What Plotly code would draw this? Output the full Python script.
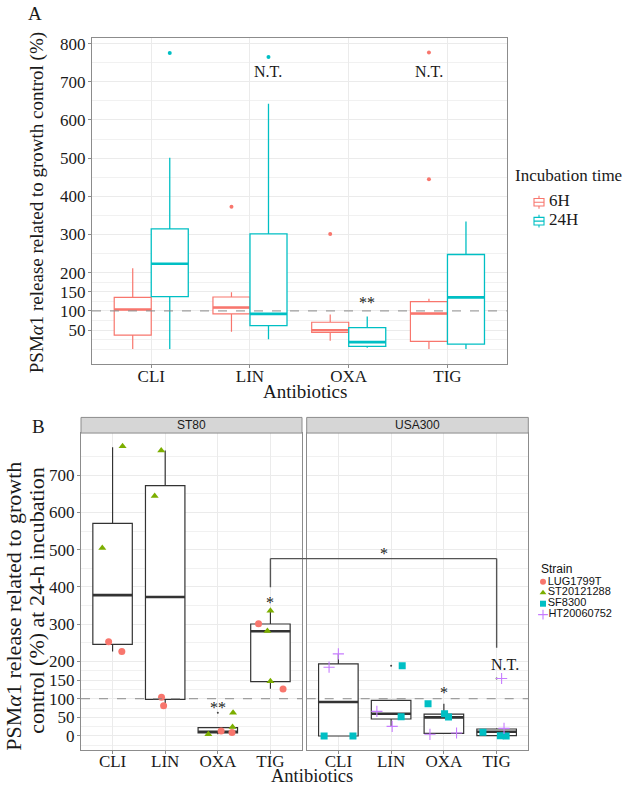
import plotly.graph_objects as go

W, H = 625, 787
SERIF = "Liberation Serif, Times New Roman, serif"
SANS = "Liberation Sans, Arial, sans-serif"

antibiotics = ["CLI", "LIN", "OXA", "TIG"]
xpos = list(range(len(antibiotics)))

# ---------------- Panel A: box statistics (values in %) ----------------
a6_q1 = [36.5, 92.2, 43.5, 20.0]
a6_med = [103.5, 108.7, 49.6, 93.0]
a6_q3 = [135.7, 136.5, 70.4, 124.3]
a6_lo = [0.0, 45.2, 21.7, 0.0]
a6_hi = [212.0, 148.7, 90.4, 132.0]
a6_out_cat = [1, 2, 3, 3]
a6_out_val = [373.0, 301.7, 777.0, 445.0]

a24_q1 = [137.4, 61.7, 7.0, 13.0]
a24_med = [223.5, 92.2, 18.3, 135.7]
a24_q3 = [314.8, 301.7, 56.5, 247.8]
a24_lo = [0.0, 26.0, 3.5, 0.0]
a24_hi = [500.9, 642.6, 85.2, 334.0]
a24_out_cat = [0, 1]
a24_out_val = [775.7, 765.0]

a_ticks = [50, 100, 150, 200, 300, 400, 500, 600, 700, 800]
a_minor = [0, 25, 75, 125, 175, 250, 350, 450, 550, 650, 750]

incubation = ["6H", "24H"]
inc_colors = ["#F8766D", "#00BFC4"]

# ---------------- Panel B: box statistics at 24 h ----------------
st80_q1 = [246.0, 98.0, 8.0, 146.0]
st80_med = [378.0, 372.7, 11.6, 281.0]
st80_q3 = [570.7, 672.0, 22.3, 300.5]
st80_lo = [226.5, 81.0, 4.5, 126.6]
st80_hi = [775.0, 766.0, 24.0, 336.0]
st80_out_cat = [2]
st80_out_val = [62.4]

usa_q1 = [0.0, 45.5, 7.1, 0.9]
usa_med = [91.0, 59.7, 49.9, 11.6]
usa_q3 = [193.5, 95.4, 58.9, 18.7]
usa_lo = [0.0, 26.0, 7.1, 0.9]
usa_hi = [220.0, 95.4, 86.5, 20.5]
usa_out_cat = [1, 3]
usa_out_val = [188.2, 154.3]

# individual strain points: category index, value, jitter
lug_cat = [0, 0, 1, 1, 2, 2, 3, 3]
lug_val = [253.0, 226.5, 104.0, 81.0, 13.4, 9.0, 301.0, 126.0]
lug_jit = [-0.075, 0.176, -0.07, -0.03, 0.063, 0.27, -0.226, 0.24]

st2_cat = [0, 0, 1, 1, 2, 2, 2, 3, 3, 3]
st2_val = [777.6, 504.7, 766.0, 644.0, 62.4, 24.0, 4.5, 336.0, 282.0, 147.0]
st2_jit = [0.19, -0.195, -0.075, -0.2, 0.29, 0.28, -0.18, 0.0, -0.057, 0.0]

sf_cat = [0, 0, 1, 1, 2, 2, 2, 3, 3, 3]
sf_val = [0.0, 0.0, 188.2, 51.7, 86.5, 59.7, 50.8, 9.8, 0.9, 0.0]
sf_jit = [-0.27, 0.277, 0.21, 0.19, -0.30, 0.013, 0.088, -0.26, 0.07, 0.18]

ht_cat = [0, 0, 1, 1, 2, 2, 3, 3]
ht_val = [220.3, 184.6, 66.0, 25.9, 4.5, 8.0, 154.3, 20.5]
ht_jit = [0.0, -0.176, -0.27, 0.02, -0.264, 0.24, 0.094, 0.14]

b_ticks = [0, 50, 100, 150, 200, 300, 400, 500, 600, 700]
b_minor = [-25, 25, 75, 125, 175, 250, 350, 450, 550, 650, 750]

strains = ["LUG1799T", "ST20121288", "SF8300", "HT20060752"]
strain_colors = ["#F8766D", "#7CAE00", "#00BFC4", "#C77CFF"]
strain_symbols = ["circle", "triangle-up", "square", "cross-thin"]

C6, C24 = inc_colors

# ---------------- layout geometry (pixels -> paper) ----------------
def fx(p):
    return p / W

def fy(p):
    return 1 - p / H

A_dom_x = [fx(92), fx(506.7)]
A_dom_y = [fy(362), fy(35)]
BL_dom_x = [fx(81), fx(302)]
BR_dom_x = [fx(306.7), fx(528.3)]
B_dom_y = [fy(750), fy(431.7)]
XR = [-0.6, 3.6]

fig = go.Figure()

BOXW = 0.75
slot = BOXW / 2


def add_box(xs, q1, med, q3, lo, hi, color, lw, xa, ya, group, name):
    fig.add_trace(go.Box(
        x=xs, q1=q1, median=med, q3=q3, lowerfence=lo, upperfence=hi,
        boxpoints=False, line=dict(color=color, width=lw), fillcolor="white",
        whiskerwidth=0, xaxis=xa, yaxis=ya, offsetgroup=group, alignmentgroup=xa,
        name=name, showlegend=False, hoverinfo="skip"))
    fig.add_trace(go.Box(
        x=xs, q1=med, median=med, q3=med, lowerfence=med, upperfence=med,
        boxpoints=False, line=dict(color=color, width=lw * 2.1), fillcolor="rgba(0,0,0,0)",
        whiskerwidth=0, xaxis=xa, yaxis=ya, offsetgroup=group, alignmentgroup=xa,
        name=name, showlegend=False, hoverinfo="skip"))


# Panel A
add_box(xpos, a6_q1, a6_med, a6_q3, a6_lo, a6_hi, C6, 1.2, "x", "y", "6H", "6H")
add_box(xpos, a24_q1, a24_med, a24_q3, a24_lo, a24_hi, C24, 1.3, "x", "y", "24H", "24H")
fig.add_trace(go.Scatter(x=[c - slot / 2 for c in a6_out_cat], y=a6_out_val, mode="markers",
                         marker=dict(color=C6, size=4), xaxis="x", yaxis="y",
                         showlegend=False, hoverinfo="skip"))
fig.add_trace(go.Scatter(x=[c + slot / 2 for c in a24_out_cat], y=a24_out_val, mode="markers",
                         marker=dict(color=C24, size=4), xaxis="x", yaxis="y",
                         showlegend=False, hoverinfo="skip"))

# Panel B boxes
add_box(xpos, st80_q1, st80_med, st80_q3, st80_lo, st80_hi, "#333333", 1.2, "x2", "y2", "b", "ST80")
add_box(xpos, usa_q1, usa_med, usa_q3, usa_lo, usa_hi, "#333333", 1.2, "x3", "y3", "b", "USA300")
fig.add_trace(go.Scatter(x=st80_out_cat, y=st80_out_val, mode="markers",
                         marker=dict(color="#444", size=2), xaxis="x2", yaxis="y2",
                         showlegend=False, hoverinfo="skip"))
fig.add_trace(go.Scatter(x=usa_out_cat, y=usa_out_val, mode="markers",
                         marker=dict(color="#444", size=2), xaxis="x3", yaxis="y3",
                         showlegend=False, hoverinfo="skip"))


def strain_marker(i, big):
    sym = strain_symbols[i]
    if sym == "cross-thin":
        return dict(color=strain_colors[i], size=8 if big else 7, symbol=sym,
                    line=dict(color=strain_colors[i], width=1.1))
    return dict(color=strain_colors[i], size=7 if big else 6, symbol=sym)


# Panel B points
pts = [
    (lug_cat, lug_val, lug_jit, 0, "x2", "y2"),
    (st2_cat, st2_val, st2_jit, 1, "x2", "y2"),
    (sf_cat, sf_val, sf_jit, 2, "x3", "y3"),
    (ht_cat, ht_val, ht_jit, 3, "x3", "y3"),
]
for cats, vals, jit, si, xa, ya in pts:
    fig.add_trace(go.Scatter(x=[c + j for c, j in zip(cats, jit)], y=vals, mode="markers",
                             marker=strain_marker(si, True), xaxis=xa, yaxis=ya,
                             showlegend=False, hoverinfo="skip"))

# Strain legend (compact, on a hidden axis; rows = strain index)
for i, s in enumerate(strains):
    fig.add_trace(go.Scatter(x=[0], y=[i], mode="markers+text", text=[s], textposition="middle right",
                             textfont=dict(family=SANS, size=11, color="#111"),
                             marker=strain_marker(i, False), xaxis="x4", yaxis="y4",
                             showlegend=False, hoverinfo="skip", cliponaxis=False))

# Incubation-time legend (box glyphs on a hidden axis; rows = group index)
for i, g in enumerate(incubation):
    fig.add_trace(go.Box(x=[0], q1=[i - 0.2], median=[i], q3=[i + 0.2], lowerfence=[i - 0.34],
                         upperfence=[i + 0.34], width=10, boxpoints=False, whiskerwidth=0,
                         line=dict(color=inc_colors[i], width=1.1), fillcolor="white",
                         xaxis="x5", yaxis="y5", showlegend=False, hoverinfo="skip"))
    fig.add_trace(go.Scatter(x=[10], y=[i], mode="text", text=[g], textposition="middle right",
                             textfont=dict(family=SERIF, size=17, color="#1a1a1a"),
                             xaxis="x5", yaxis="y5", showlegend=False, hoverinfo="skip",
                             cliponaxis=False))

axis_common = dict(showline=True, mirror=True, linecolor="#8c8c8c", linewidth=1,
                   gridcolor="#EBEBEB", gridwidth=1, zeroline=False, ticks="outside",
                   ticklen=3, tickcolor="#8c8c8c", fixedrange=True)
xcommon = dict(axis_common, range=XR, tickvals=xpos, ticktext=antibiotics, ticklabelstandoff=-6,
               tickfont=dict(family=SERIF, size=17, color="#1a1a1a"))
yfont = dict(family=SERIF, size=17, color="#1a1a1a")

fig.update_layout(
    width=W, height=H, autosize=False, margin=dict(l=0, r=0, t=0, b=0),
    paper_bgcolor="white", plot_bgcolor="white", showlegend=False,
    boxmode="group", boxgap=0.25, boxgroupgap=0.0,
    xaxis=dict(xcommon, domain=A_dom_x, anchor="y"),
    yaxis=dict(axis_common, domain=A_dom_y, anchor="x", range=[-38, 815], tickvals=a_ticks,
               tickfont=yfont, ticklabelstandoff=-1,
               minor=dict(tickvals=a_minor, showgrid=True, gridcolor="#F1F1F1", gridwidth=0.6, ticks="")),
    xaxis2=dict(xcommon, domain=BL_dom_x, anchor="y2", ticklabelstandoff=-8),
    yaxis2=dict(axis_common, domain=B_dom_y, anchor="x2", range=[-38, 813], tickvals=b_ticks,
                tickfont=yfont, ticklabelstandoff=-1,
                minor=dict(tickvals=b_minor, showgrid=True, gridcolor="#F1F1F1", gridwidth=0.6, ticks="")),
    xaxis3=dict(xcommon, domain=BR_dom_x, anchor="y3", ticklabelstandoff=-8),
    yaxis3=dict(axis_common, domain=B_dom_y, anchor="x3", matches="y2", range=[-38, 813],
                tickvals=b_ticks, showticklabels=False, ticks="",
                minor=dict(tickvals=b_minor, showgrid=True, gridcolor="#F1F1F1", gridwidth=0.6, ticks="")),
    # strain legend area: 1 x-unit = 1 px, marker at 543 px
    xaxis4=dict(domain=[fx(536), 1.0], range=[-7, 82], visible=False, fixedrange=True),
    yaxis4=dict(domain=[fy(619.5), fy(575.5)], range=[3.5, -0.5], visible=False, fixedrange=True),
    # incubation legend area: glyph at 539 px, rows at 200 / 219 px
    xaxis5=dict(domain=[fx(529), fx(625)], range=[-10, 86], visible=False, fixedrange=True),
    yaxis5=dict(domain=[fy(228.5), fy(190.5)], range=[1.5, -0.5], visible=False, fixedrange=True),
)

shapes = []
# dashed reference line at 100 %
for xa, ya in [("x", "y"), ("x2", "y2"), ("x3", "y3")]:
    shapes.append(dict(type="line", xref=f"{xa} domain", x0=0, x1=1, yref=ya, y0=100, y1=100,
                       line=dict(color="#8a8a8a", width=1, dash="dash"), layer="above"))
# facet strips
strip_y = [B_dom_y[1], fy(416)]
for dom in (BL_dom_x, BR_dom_x):
    shapes.append(dict(type="rect", xref="paper", yref="paper", x0=dom[0], x1=dom[1],
                       y0=strip_y[0], y1=strip_y[1], fillcolor="#D6D6D6",
                       line=dict(color="#8c8c8c", width=1)))

# significance bracket between ST80 TIG and USA300 TIG
def paper_x(dom, idx):
    return dom[0] + (idx - XR[0]) / (XR[1] - XR[0]) * (dom[1] - dom[0])

tig = antibiotics.index("TIG")
br_left_low, br_top, br_right_low = 399, 476, 236.5
bl_px, br_px = paper_x(BL_dom_x, tig), paper_x(BR_dom_x, tig)
bk = dict(color="#555555", width=1.4)
shapes.append(dict(type="line", xref="x2", yref="y2", x0=tig, x1=tig, y0=br_left_low, y1=br_top, line=bk))
shapes.append(dict(type="line", xref="paper", yref="y2", x0=bl_px, x1=br_px, y0=br_top, y1=br_top, line=bk))
shapes.append(dict(type="line", xref="x3", yref="y3", x0=tig, x1=tig, y0=br_right_low, y1=br_top, line=bk))
fig.update_layout(shapes=shapes)

anns = []
C = dict(showarrow=False, xanchor="center", yanchor="middle")
sfont = dict(family=SERIF, size=16, color="#1a1a1a")
# Panel A annotations
anns.append(dict(C, x=1 + slot / 2, y=728, xref="x", yref="y", text="N.T.", font=sfont))
anns.append(dict(C, x=3 - slot / 2, y=728, xref="x", yref="y", text="N.T.", font=sfont))
anns.append(dict(C, x=2 + slot / 2, y=122, xref="x", yref="y", text="**", font=sfont))
# Panel B annotations
anns.append(dict(C, x=2, y=76, xref="x2", yref="y2", text="**", font=sfont))
anns.append(dict(C, x=3, y=359, xref="x2", yref="y2", text="*", font=sfont))
anns.append(dict(C, x=2, y=118, xref="x3", yref="y3", text="*", font=sfont))
anns.append(dict(C, x=3 + 0.15, y=193, xref="x3", yref="y3", text="N.T.", font=sfont))
anns.append(dict(C, x=(bl_px + br_px) / 2, y=491, xref="paper", yref="y2", text="*", font=sfont))
# strip labels
for dom, lab in ((BL_dom_x, "ST80"), (BR_dom_x, "USA300")):
    anns.append(dict(C, x=(dom[0] + dom[1]) / 2, y=(strip_y[0] + strip_y[1]) / 2, xref="paper", yref="paper",
                     text=lab, font=dict(family=SANS, size=12, color="#1a1a1a")))
# panel letters
anns.append(dict(C, x=fx(35), y=fy(11), xref="paper", yref="paper", text="A",
                 font=dict(family=SERIF, size=19, color="#1a1a1a")))
anns.append(dict(C, x=fx(38), y=fy(425), xref="paper", yref="paper", text="B",
                 font=dict(family=SERIF, size=19, color="#1a1a1a")))
# axis titles
tfont = dict(family=SERIF, size=19, color="#1a1a1a")
bfont = dict(family=SERIF, size=22, color="#1a1a1a")
anns.append(dict(C, x=fx(305), y=fy(390), xref="paper", yref="paper", text="Antibiotics", font=tfont))
anns.append(dict(C, x=fx(312), y=fy(776), xref="paper", yref="paper", text="Antibiotics",
                 font=dict(family=SERIF, size=18.5, color="#1a1a1a")))
anns.append(dict(C, x=fx(37), y=fy(201), xref="paper", yref="paper", textangle=-90, font=tfont,
                 text="PSM<i>α</i>1 release related to growth control (%)"))
anns.append(dict(C, x=fx(14), y=fy(606), xref="paper", yref="paper", textangle=-90, font=bfont,
                 text="PSM<i>α</i>1 release related to growth"))
anns.append(dict(C, x=fx(37), y=fy(600), xref="paper", yref="paper", textangle=-90, font=bfont,
                 text="control (%) at 24-h incubation"))
anns.append(dict(C, x=fx(513), y=fy(173), xref="paper", yref="paper", text="Incubation time",
                 xanchor="left", font=dict(family=SERIF, size=17, color="#1a1a1a")))
anns.append(dict(C, x=fx(539), y=fy(568), xref="paper", yref="paper", text="Strain",
                 xanchor="left", font=dict(family=SANS, size=12, color="#111")))
fig.update_layout(annotations=anns)

fig.write_html("out.html", config={"displayModeBar": False},
               post_script="document.body.style.margin='0px';")
